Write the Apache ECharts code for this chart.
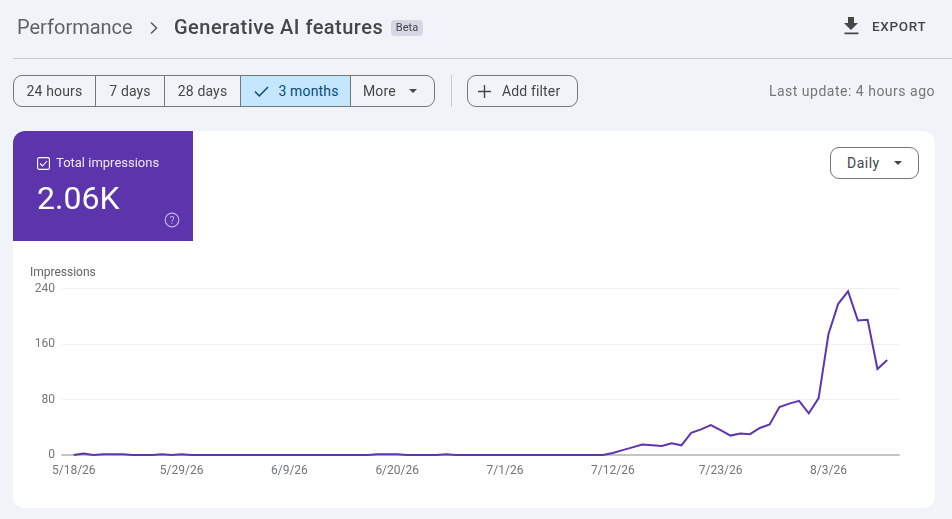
<!DOCTYPE html>
<html><head><meta charset="utf-8">
<script src="https://cdn.jsdelivr.net/npm/echarts@6/dist/echarts.min.js"></script>
<style>
html,body{margin:0;padding:0;width:952px;height:519px;overflow:hidden;background:#f0f4f9;font-family:Roboto,sans-serif;color:#444746}
.a{position:absolute;white-space:nowrap}
#card{left:13px;top:131px;width:922px;height:377px;background:#fff;border-radius:12px}
#tile{left:13px;top:131px;width:180px;height:110px;background:#5c35ad;border-radius:12px 0 0 0}
#chart{left:0;top:0;width:952px;height:519px}
.btns{left:13px;top:75px;height:30px;width:420px;border:1px solid #747775;border-radius:9px;display:flex;overflow:hidden;font-size:14px;letter-spacing:.15px}
.btns div{height:30px;line-height:31px;text-align:center;border-right:1px solid #747775;box-sizing:content-box}
.btn{border:1px solid #747775;border-radius:9px;box-sizing:border-box;font-size:14px}
</style></head><body>
<div class="a" id="card"></div>
<div class="a" id="tile"></div>
<div class="a" id="chart"></div>

<div class="a" style="left:17px;top:15px;font-size:20px;line-height:24px;color:#5f6368">Performance</div>
<svg class="a" style="left:147px;top:20px" width="14" height="16" viewBox="0 0 14 16"><path d="M4 2.500 L9.500 8 L4 13.500" fill="none" stroke="#5f6368" stroke-width="1.700"/></svg>
<div class="a" style="left:174px;top:15px;font-size:20px;line-height:24px;font-weight:500;color:#444746;letter-spacing:.47px">Generative AI features</div>
<div class="a" style="left:391px;top:20px;width:32px;height:16px;background:#d5d8e4;border-radius:4px;font-size:11px;line-height:16px;text-align:center;color:#444746">Beta</div>
<svg class="a" style="left:843px;top:16px" width="17" height="19" viewBox="0 0 17 19"><path d="M5 1h6v6h4l-7 7-7-7h4z M1.500 16.500h14v1.700h-14z" fill="#444746"/></svg>
<div class="a" style="left:872px;top:18px;font-size:13.500px;line-height:17px;font-weight:500;letter-spacing:.7px;color:#444746">EXPORT</div>
<div class="a" style="left:13px;top:58px;width:939px;height:1px;background:#c7cace"></div>

<div class="a btns">
<div style="width:81px">24 hours</div>
<div style="width:68px">7 days</div>
<div style="width:75px">28 days</div>
<div style="width:109px;background:#c2e7ff;color:#0b4a75;position:relative"><svg style="position:absolute;left:13px;top:9px" width="15" height="13" viewBox="0 0 15 13"><path d="M1 6.500 L5.300 11 L14 2" fill="none" stroke="#0b4a75" stroke-width="1.500"/></svg><span style="margin-left:26px;">3 months</span></div>
<div style="flex:1;border-right:0;text-align:left;padding-left:12px">More</div>
</div>
<svg class="a" style="left:409px;top:89px" width="8" height="4"><path d="M0 0h8L4 4z" fill="#444746"/></svg>
<div class="a" style="left:451px;top:75px;width:1px;height:32px;background:#c7cace"></div>
<div class="a btn" style="left:467px;top:75px;width:111px;height:32px;line-height:31px;padding-left:34px;"><span style="letter-spacing:.15px">Add filter</span></div>
<svg class="a" style="left:478px;top:85px" width="13" height="13"><path d="M6.500 0v13M0 6.500h13" stroke="#444746" stroke-width="1.400"/></svg>
<div class="a" style="right:17px;top:82px;font-size:14px;line-height:18px;color:#747775;letter-spacing:.5px">Last update: 4 hours ago</div>

<div class="a btn" style="left:830px;top:147px;width:89px;height:32px;background:#fff;line-height:31px;padding-left:16px;letter-spacing:.5px">Daily</div>
<svg class="a" style="left:894px;top:161px" width="8" height="4"><path d="M0 0h8L4 4z" fill="#444746"/></svg>

<svg class="a" style="left:37px;top:157px" width="13" height="13" viewBox="0 0 13 13"><rect x=".6" y=".6" width="11.800" height="11.800" rx="1.500" fill="none" stroke="#fff" stroke-width="1.100"/><path d="M3 6.500 L5.500 9 L10 4" fill="none" stroke="#fff" stroke-width="1.100"/></svg>
<div class="a" style="left:56px;top:154px;font-size:13px;line-height:17px;color:#eee8f8">Total impressions</div>
<div class="a" style="left:37px;top:180px;font-size:32px;line-height:37px;color:#fff">2.06K</div>
<svg class="a" style="left:164px;top:212px" width="16" height="16" viewBox="0 0 16 16"><circle cx="8" cy="8" r="6.800" fill="none" stroke="#c3b2e4" stroke-width="1.200"/><text x="8" y="11.500" text-anchor="middle" font-size="10" font-family="Roboto" fill="#c3b2e4">?</text></svg>

<script>
const dates=["5/18/26","5/19/26","5/20/26","5/21/26","5/22/26","5/23/26","5/24/26","5/25/26","5/26/26","5/27/26","5/28/26","5/29/26","5/30/26","5/31/26","6/1/26","6/2/26","6/3/26","6/4/26","6/5/26","6/6/26","6/7/26","6/8/26","6/9/26","6/10/26","6/11/26","6/12/26","6/13/26","6/14/26","6/15/26","6/16/26","6/17/26","6/18/26","6/19/26","6/20/26","6/21/26","6/22/26","6/23/26","6/24/26","6/25/26","6/26/26","6/27/26","6/28/26","6/29/26","6/30/26","7/1/26","7/2/26","7/3/26","7/4/26","7/5/26","7/6/26","7/7/26","7/8/26","7/9/26","7/10/26","7/11/26","7/12/26","7/13/26","7/14/26","7/15/26","7/16/26","7/17/26","7/18/26","7/19/26","7/20/26","7/21/26","7/22/26","7/23/26","7/24/26","7/25/26","7/26/26","7/27/26","7/28/26","7/29/26","7/30/26","7/31/26","8/1/26","8/2/26","8/3/26","8/4/26","8/5/26","8/6/26","8/7/26","8/8/26","8/9/26"];
const impressions=[0,2,0,1,1,1,0,0,0,1,0,1,0,0,0,0,0,0,0,0,0,0,0,0,0,0,0,0,0,0,0,1,1,1,0,0,0,0,1,0,0,0,0,0,0,0,0,0,0,0,0,0,0,0,0,3,7,11,15,14,13,17,14,32,37,43,36,28,31,30,39,44,69,74,78,60,82,174,218,236,194,195,124,137];
const tickIndexes=[0,11,22,33,44,55,66,77];
const yTicks=[0,80,160,240];
const seriesName="Impressions";
const chart=echarts.init(document.getElementById('chart'),null,{renderer:'canvas'});
chart.setOption({
 animation:false,
 backgroundColor:'transparent',
 grid:{left:62,right:53,top:288.5,bottom:64,containLabel:false},
 xAxis:{type:'value',min:-1.2,max:84.2,
  axisLine:{show:true,onZero:true,lineStyle:{color:'#c4c4c4',width:2}},
  axisTick:{show:false},splitLine:{show:false},
  axisLabel:{customValues:tickIndexes,formatter:v=>dates[v],color:'#70757a',fontSize:12,fontFamily:'Roboto',margin:10,hideOverlap:false}},
 yAxis:{type:'value',min:yTicks[0],max:yTicks[yTicks.length-1],interval:80,
  name:seriesName,nameLocation:'end',nameGap:10,
  nameTextStyle:{color:'#5f6368',fontSize:12,fontFamily:'Roboto',align:'right',padding:[0,-22,0,0]},
  axisLine:{show:false},axisTick:{show:false},
  splitLine:{lineStyle:{color:'#f0f0f0',width:1}},
  axisLabel:{color:'#70757a',fontSize:12,fontFamily:'Roboto',margin:7,padding:[2,0,0,0]}},
 series:[{name:seriesName,type:'line',data:impressions.map((v,i)=>[i,v]),showSymbol:false,symbol:'none',
  lineStyle:{color:'#5e35b1',width:2,join:'miter'},clip:false}]
});
</script>
</body></html>
